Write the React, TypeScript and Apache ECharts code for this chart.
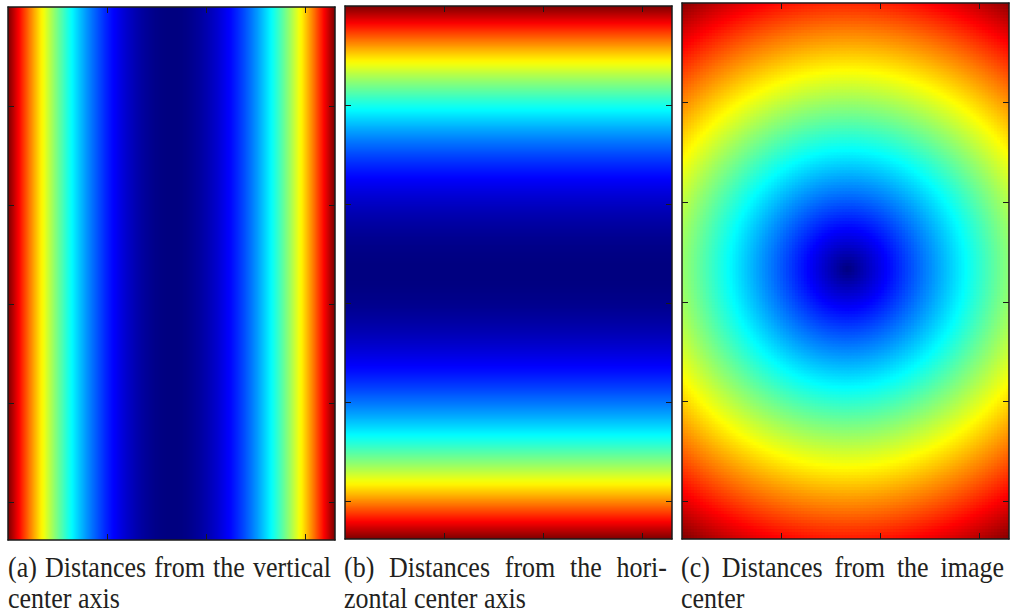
import React, { useEffect, useRef } from "react";
import * as echarts from "echarts";

// ---- data (image coordinates, in pixels of the source image) ----
const IMAGE_WIDTH = 330;
const IMAGE_HEIGHT = 538;
const X_TICKS = [100, 200, 300];
const Y_TICKS = [100, 200, 300, 400, 500];
// centre used for the radial map (c)
const CENTER_C = [167, 267];
// sampling step of each map (image pixels per cell)
const STEP_A = 1;
const STEP_B = 1;
const STEP_C = 3;

const CAPTION_A = ["(a) Distances from the vertical", "center axis"];
const CAPTION_B = ["(b) Distances from the hori-", "zontal center axis"];
const CAPTION_C = ["(c) Distances from the image", "center"];

// ---- layout ----
const GRIDS = [
  { left: 8, top: 7, width: 327, height: 533 },
  { left: 345, top: 6, width: 327, height: 533 },
  { left: 682, top: 3, width: 327, height: 536 },
];
const CAPTION_LEFT = [8, 344, 681];
const CAPTION_WIDTH = 323;
const CAPTION_Y = [567, 598];
const FONT_SIZE = 26;
const FONT_FAMILY = "'Liberation Serif', 'Times New Roman', serif";
const FRAME = "#1a1a1a";
const CELL_OVERLAP = 1.6;

function jet(t: number): string {
  const c = (v: number) => Math.round(Math.max(0, Math.min(1, v)) * 255);
  const r = c(1.5 - Math.abs(4 * t - 3));
  const g = c(1.5 - Math.abs(4 * t - 2));
  const b = c(1.5 - Math.abs(4 * t - 1));
  return `rgb(${r},${g},${b})`;
}

const N_COL = 64;
const PALETTE_SQ = Array.from({ length: N_COL + 1 }, (_, i) => jet((i / N_COL) ** 2));
const PALETTE_LIN = Array.from({ length: N_COL + 1 }, (_, i) => jet(i / N_COL));

function range(n: number) {
  return Array.from({ length: n }, (_, i) => i);
}

function buildMaps() {
  const a = range(Math.round(IMAGE_WIDTH / STEP_A)).map((i) => {
    const x = (i + 0.5) * STEP_A;
    return [x, IMAGE_HEIGHT / 2, Math.abs(x - IMAGE_WIDTH / 2)];
  });
  const b = range(Math.round(IMAGE_HEIGHT / STEP_B)).map((j) => {
    const y = (j + 0.5) * STEP_B;
    return [IMAGE_WIDTH / 2, y, Math.abs(y - IMAGE_HEIGHT / 2)];
  });
  const c: number[][] = [];
  const nx = Math.ceil(IMAGE_WIDTH / STEP_C);
  const ny = Math.ceil(IMAGE_HEIGHT / STEP_C);
  for (let j = 0; j < ny; j++) {
    for (let i = 0; i < nx; i++) {
      const x = (i + 0.5) * STEP_C;
      const y = (j + 0.5) * STEP_C;
      const dx = x - CENTER_C[0];
      const dy = y - CENTER_C[1];
      c.push([x, y, Math.sqrt(dx * dx + dy * dy)]);
    }
  }
  return [
    { data: a, cw: STEP_A, ch: IMAGE_HEIGHT },
    { data: b, cw: IMAGE_WIDTH, ch: STEP_B },
    { data: c, cw: STEP_C, ch: STEP_C },
  ];
}

function measure(text: string): number {
  const cv = document.createElement("canvas");
  const ctx = cv.getContext("2d")!;
  ctx.font = `${FONT_SIZE}px ${FONT_FAMILY}`;
  return ctx.measureText(text).width;
}

function captionElements(lines: string[], left: number) {
  const els: any[] = [];
  lines.forEach((line, li) => {
    const words = line.split(" ");
    const widths = words.map(measure);
    const total = widths.reduce((s, w) => s + w, 0);
    const justify = li < lines.length - 1 && words.length > 1;
    const gap = justify ? (CAPTION_WIDTH - total) / (words.length - 1) : measure(" ");
    let x = left;
    words.forEach((w, wi) => {
      els.push({
        type: "text",
        x,
        y: CAPTION_Y[li],
        scaleY: 1.14,
        silent: true,
        style: {
          text: w,
          fontSize: FONT_SIZE,
          fontFamily: FONT_FAMILY,
          fill: "#231f20",
          align: "left",
          verticalAlign: "middle",
          textAlign: "left",
          textVerticalAlign: "middle",
        },
      });
      x += widths[wi] + gap;
    });
  });
  return els;
}

export default function App() {
  const ref = useRef<HTMLDivElement>(null);
  useEffect(() => {
    if (!ref.current) return;
    const chart = echarts.init(ref.current, undefined, { renderer: "svg" });
    const maps = buildMaps();
    const palettes = [PALETTE_SQ, PALETTE_SQ, PALETTE_LIN];

    const frameAxis = (pos: string, max: number, ticks: number[], g: number, inverse = false) => ({
      type: "value",
      gridIndex: g,
      position: pos,
      min: 0,
      max,
      interval: 100,
      inverse,
      z: 10,
      silent: true,
      axisLine: { show: true, onZero: false, lineStyle: { color: FRAME, width: 1.5 } },
      axisTick: {
        show: true,
        inside: true,
        length: 6,
        customValues: ticks,
        lineStyle: { color: FRAME, width: 1 },
      },
      axisLabel: { show: false },
      splitLine: { show: false },
    });

    const xAxis: any[] = [];
    const yAxis: any[] = [];
    GRIDS.forEach((_, g) => {
      xAxis.push(frameAxis("bottom", IMAGE_WIDTH, X_TICKS, g));
      xAxis.push(frameAxis("top", IMAGE_WIDTH, X_TICKS, g));
      yAxis.push(frameAxis("left", IMAGE_HEIGHT, Y_TICKS, g, true));
      yAxis.push(frameAxis("right", IMAGE_HEIGHT, Y_TICKS, g, true));
    });

    const series = maps.map((m, g) => ({
      type: "custom",
      xAxisIndex: g * 2,
      yAxisIndex: g * 2,
      data: m.data,
      encode: { x: 0, y: 1 },
      clip: true,
      silent: true,
      progressive: 0,
      renderItem: (params: any, api: any) => {
        const x = api.value(0);
        const y = api.value(1);
        const p0 = api.coord([x - m.cw / 2, y - m.ch / 2]);
        const p1 = api.coord([x + m.cw / 2, y + m.ch / 2]);
        const left = Math.min(p0[0], p1[0]);
        const top = Math.min(p0[1], p1[1]);
        return {
          type: "rect",
          shape: {
            x: left,
            y: top,
            width: Math.abs(p1[0] - p0[0]) + CELL_OVERLAP,
            height: Math.abs(p1[1] - p0[1]) + CELL_OVERLAP,
          },
          style: { fill: api.visual("color") },
        };
      },
    }));

    const visualMap = maps.map((m, g) => ({
      type: "continuous",
      show: false,
      seriesIndex: g,
      dimension: 2,
      min: 0,
      max: Math.max(...m.data.map((d) => d[2])),
      inRange: { color: palettes[g] },
    }));

    const graphic = [
      ...captionElements(CAPTION_A, CAPTION_LEFT[0]),
      ...captionElements(CAPTION_B, CAPTION_LEFT[1]),
      ...captionElements(CAPTION_C, CAPTION_LEFT[2]),
    ];

    chart.setOption({
      animation: false,
      backgroundColor: "#ffffff",
      grid: GRIDS.map((g) => ({ ...g, containLabel: false })),
      xAxis,
      yAxis,
      visualMap,
      series,
      graphic,
    });
    return () => chart.dispose();
  }, []);
  return (
    <div
      ref={ref}
      style={{ position: "absolute", left: 0, top: 0, width: 1012, height: 614, background: "#fff" }}
    />
  );
}
